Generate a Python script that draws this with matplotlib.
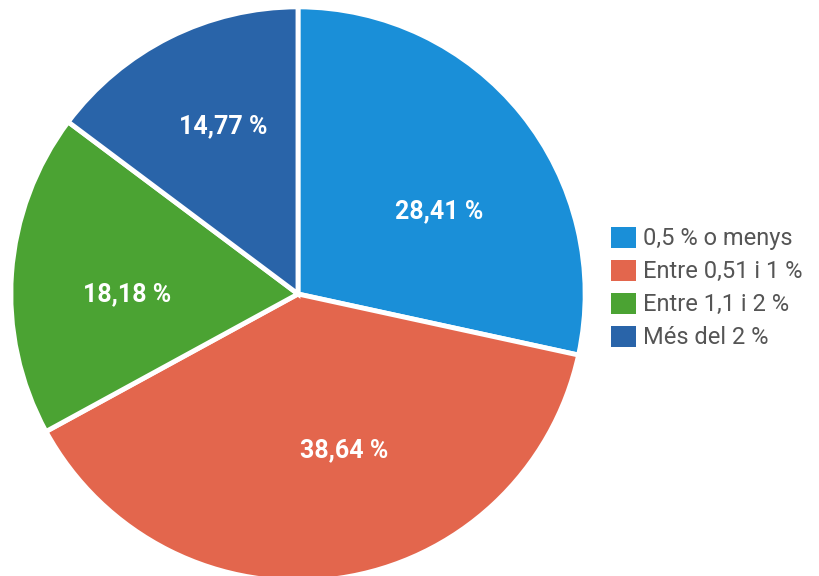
import matplotlib.pyplot as plt

plt.rcParams['font.family'] = ['Roboto', 'DejaVu Sans']

# dades
categories = ["0,5 % o menys", "Entre 0,51 i 1 %", "Entre 1,1 i 2 %", "Més del 2 %"]
values = [28.41, 38.64, 18.18, 14.77]
colors = ["#1a8fd8", "#e3664d", "#4ba333", "#2964a9"]
# posició de cada etiqueta dins del pastís (unitats del radi)
label_pos = [(0.49, 0.29), (0.16, -0.545), (-0.595, 0.0), (-0.26, 0.585)]

fig = plt.figure(figsize=(8.19, 5.76), dpi=100)
# eix quadrat per al pastís (en píxels: x 8..588, y 5..585 des de dalt)
ax = fig.add_axes([8 / 819, (576 - 584) / 576, 580 / 819, 580 / 576])

wedges, texts, autotexts = ax.pie(
    values,
    colors=colors,
    startangle=90,
    counterclock=False,
    autopct=lambda p: f"{p:.2f} %".replace(".", ","),
    wedgeprops={"edgecolor": "white", "linewidth": 3.5},
    textprops={"color": "white", "fontsize": 18, "fontweight": "bold"},
)
for t, pos in zip(autotexts, label_pos):
    t.set_position(pos)
ax.set_xlim(-1.01, 1.01)
ax.set_ylim(-1.01, 1.01)
ax.set_aspect("equal")

fig.legend(
    wedges,
    categories,
    loc="center left",
    bbox_to_anchor=(0.72, 0.5),
    frameon=False,
    fontsize=17,
    labelcolor="#555555",
    handlelength=1.05,
    handleheight=1.0,
    handletextpad=0.3,
    labelspacing=0.4,
)
for h in fig.legends[0].legend_handles:
    h.set_edgecolor("none")

fig.savefig("out.png", dpi=100)
